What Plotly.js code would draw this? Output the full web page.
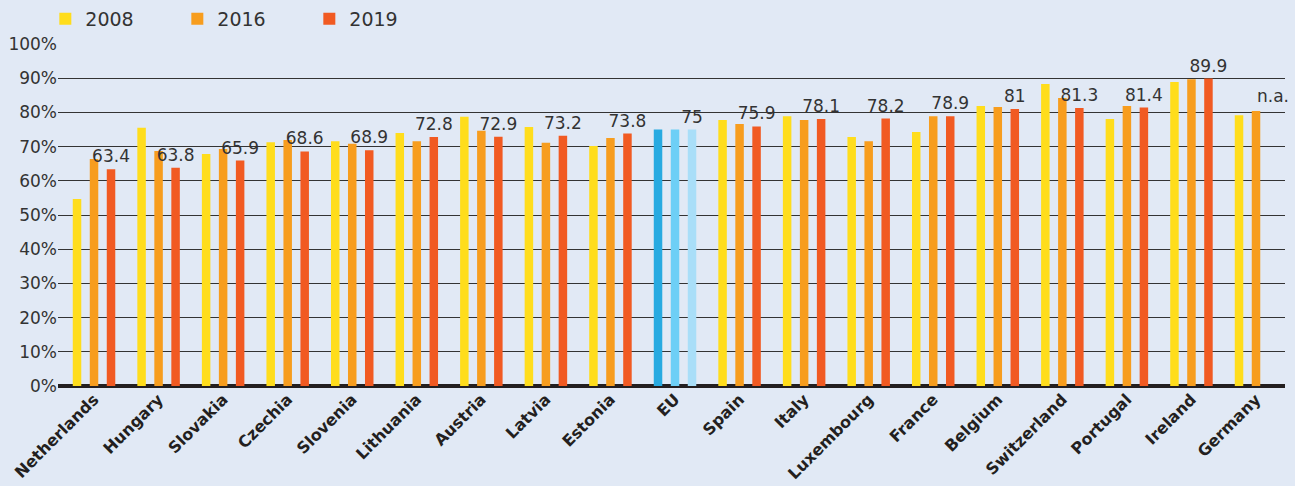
<!DOCTYPE html>
<html><head><meta charset="utf-8">
<script src="https://cdn.plot.ly/plotly-3.0.1.min.js"></script>
<style>html,body{margin:0;padding:0;background:#e1e9f5;}#chart{width:1295px;height:486px;}</style>
</head><body><div id="chart"></div>
<script>
const categories = ["Netherlands","Hungary","Slovakia","Czechia","Slovenia","Lithuania","Austria","Latvia","Estonia","EU","Spain","Italy","Luxembourg","France","Belgium","Switzerland","Portugal","Ireland","Germany"];
const v2008 = [54.7,75.5,67.8,71.3,71.6,74.0,78.7,75.7,70.2,75,77.8,78.9,72.8,74.3,81.9,88.3,78.1,88.9,79.2];
const v2016 = [66.4,68.7,69.3,71.9,70.8,71.6,74.6,71.1,72.5,75,76.6,77.8,71.6,78.9,81.6,84.2,81.9,89.7,80.4];
const v2019 = [63.4,63.8,65.9,68.6,68.9,72.8,72.9,73.2,73.8,75,75.9,78.1,78.2,78.9,81,81.3,81.4,89.9,null];
const seriesNames = ["2008","2016","2019"];
const seriesColors = ["#ffdd1c","#f79d1e","#f15a22"];
const euColors = ["#27aae1","#6dcff6","#a9def8"];
const missingLabel = "n.a.";

function colorsFor(i){ return categories.map(c => c === "EU" ? euColors[i] : seriesColors[i]); }

const font = "DejaVu Sans, sans-serif";
const traces = [v2008, v2016, v2019].map((vals, i) => {
  const t = {
    type: "bar", name: seriesNames[i], x: categories, y: vals,
    marker: {color: colorsFor(i), line: {width: 0}},
    hoverinfo: "none"
  };
  if (i === 2) {
    t.text = vals.map(v => v === null ? "" : String(v));
    t.textposition = "outside";
    t.constraintext = "none";
    t.cliponaxis = false;
    t.textfont = {family: font, size: 17, color: "#333333"};
  }
  return t;
});

const gIdx = categories.length - 1;
const layout = {
  width: 1295, height: 486,
  paper_bgcolor: "#e1e9f5", plot_bgcolor: "#e1e9f5",
  margin: {l: 58, r: 10, t: 44, b: 100},
  barmode: "group", bargap: 0.21, bargroupgap: 0.5,
  showlegend: true,
  legend: {orientation: "h", xref: "container", yref: "container", x: 0.035, xanchor: "left", y: 1, yanchor: "top",
           font: {family: font, size: 19, color: "#333333"}, bgcolor: "rgba(0,0,0,0)",
           itemwidth: 30, entrywidth: 87, entrywidthmode: "pixels", traceorder: "normal"},
  xaxis: {type: "category", range: [-0.558, 18.449], showgrid: false, zeroline: false,
          tickangle: -45, ticks: "", showline: false,
          tickfont: {family: "DejaVu Sans, sans-serif", size: 16, color: "#231f20", weight: "bold"}},
  yaxis: {range: [0, 100], dtick: 10, ticksuffix: "%", showgrid: true, gridcolor: "#333333", gridwidth: 1,
          zeroline: true, zerolinecolor: "#231f20", zerolinewidth: 3.5, showline: false, ticks: "",
          tickfont: {family: font, size: 17, color: "#333333"}, fixedrange: true},
  annotations: [{x: categories[gIdx], y: v2016[gIdx], xref: "x", yref: "y", xshift: 17, yshift: 3,
                 yanchor: "bottom", text: missingLabel, showarrow: false,
                 font: {family: font, size: 17, color: "#333333"}}]
};
Plotly.newPlot("chart", traces, layout, {displayModeBar: false, staticPlot: true});
</script></body></html>
